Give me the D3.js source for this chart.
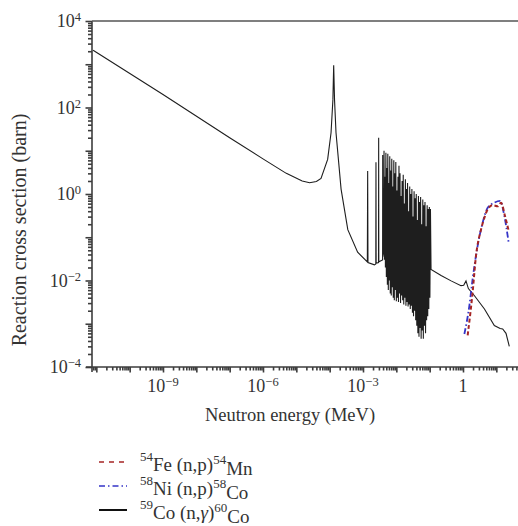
<!DOCTYPE html>
<html><head><meta charset="utf-8">
<script src="https://cdn.jsdelivr.net/npm/d3@7"></script>
<style>
body{margin:0;background:#fff}
svg{display:block}
text{font-family:"Liberation Serif","Times New Roman",serif;fill:#333}
</style>
</head><body>
<svg id="c" width="518" height="526"></svg>
<script>
// ---- data (energy in MeV, cross section in barn) ----
const coE = [8e-12,1e-9,1e-7,1e-6,5e-6,1.5e-5,2.5e-5,4e-5,5.5e-5,8.7e-5,1.1e-4,1.25e-4,1.32e-4,1.40e-4,1.55e-4,2.2e-4,3.5e-4,6.9e-4,
 1.35e-3,1.38e-3,1.41e-3,2.2e-3,2.42e-3,2.45e-3,2.48e-3,2.92e-3,2.95e-3,2.98e-3,3.87e-3,3.9e-3,3.93e-3,4.15e-3,
 4.27e-3,4.40e-3,4.55e-3,4.70e-3,4.86e-3,5.02e-3,5.20e-3,5.38e-3,5.55e-3,5.75e-3,5.95e-3,6.15e-3,6.35e-3,6.58e-3,6.80e-3,7.05e-3,
 7.30e-3,7.55e-3,7.80e-3,8.10e-3,8.40e-3,8.70e-3,9.00e-3,9.30e-3,9.65e-3,1.00e-2,1.04e-2,1.08e-2,1.12e-2,1.16e-2,1.20e-2,1.24e-2,
 1.29e-2,1.34e-2,1.39e-2,1.44e-2,1.49e-2,1.55e-2,1.61e-2,1.67e-2,1.73e-2,1.80e-2,1.87e-2,1.94e-2,2.01e-2,2.09e-2,2.17e-2,2.25e-2,
 2.34e-2,2.43e-2,2.52e-2,2.62e-2,2.72e-2,2.82e-2,2.93e-2,3.04e-2,3.16e-2,3.28e-2,3.41e-2,3.54e-2,3.67e-2,3.81e-2,3.96e-2,4.11e-2,
 4.27e-2,4.43e-2,4.60e-2,4.78e-2,4.96e-2,5.15e-2,5.35e-2,5.55e-2,5.77e-2,5.99e-2,6.22e-2,6.46e-2,6.71e-2,6.97e-2,7.24e-2,7.52e-2,
 7.80e-2,8.10e-2,8.41e-2,8.74e-2,9.07e-2,9.42e-2,9.78e-2,0.1016,0.1055,0.110,
 0.22,0.44,0.87,1.05,1.23,1.45,2.18,4.4,8.7,13,15.5,19.5,24.5];
const coS = [2100,200,20,6.5,3.0,2.0,1.82,1.95,2.3,6.3,26,150,950,150,26,1.3,0.15,0.045,
 0.027,3.4,0.026,0.023,0.024,5.4,0.025,0.026,20,0.027,0.03,8,0.035,0.045,
 10,0.03,2.5,0.02,9,0.012,4,0.008,8.5,0.006,1.8,0.01,7.5,0.005,3.5,0.0045,
 6.5,0.007,1.5,0.004,6,0.0035,3,0.006,5.5,0.0033,1.2,0.004,2.5,0.0032,4.5,0.005,
 3,0.003,0.9,0.0045,2,0.0035,2.8,0.0028,0.6,0.004,2.2,0.0026,1.3,0.0032,1.8,0.0025,
 0.4,0.0028,1.5,0.0022,1.0,0.0026,1.3,0.0018,0.3,0.0015,1.15,0.002,0.8,0.0012,1.0,0.0009,
 0.25,0.0006,0.9,0.0005,0.65,0.0008,0.85,0.00045,0.2,0.0007,0.75,0.00045,0.55,0.0009,0.65,0.0006,
 0.18,0.0012,0.55,0.0015,0.45,0.0022,0.5,0.004,0.45,0.018,
 0.013,0.0098,0.0076,0.0078,0.0098,0.0065,0.0045,0.0022,0.00091,0.00078,0.00076,0.0006,0.0003];

const feE = [1.38,1.95,2.45,3.47,4.5,5.5,7.8,11,13.8,18.2,23];
const feS = [0.00054,0.0055,0.037,0.15,0.3,0.44,0.55,0.52,0.63,0.31,0.15];

const niE = [1.1,1.55,1.95,2.75,3.9,5.5,8.7,13.1,17.4,23.4];
const niS = [0.00058,0.0026,0.011,0.063,0.22,0.48,0.63,0.69,0.31,0.076];

const xTickValues = [1e-9,1e-6,1e-3,1];
const yTickValues = [1e-4,1e-2,1,1e2,1e4];
const xTitle = "Neutron energy (MeV)";
const yTitle = "Reaction cross section (barn)";

// ---- layout ----
const svg = d3.select("#c");
const L = 92, R = 518, T = 21, B = 367;
const x = d3.scaleLog().domain([Math.pow(10,-11.13), Math.pow(10,1.65)]).range([L, R]);
const y = d3.scaleLog().domain([1e-4, 1e4]).range([B, T]);

const axisColor = "#3d3d3d";

function decades(lo, hi){ const a=[]; for(let d=lo; d<=hi; d++) a.push(Math.pow(10,d)); return a; }
function minors(lo, hi){ const a=[]; for(let d=lo; d<=hi; d++) for(let m=2;m<=9;m++) a.push(m*Math.pow(10,d)); return a; }

const xMaj = decades(-11,1).filter(v=>x(v)>=L && x(v)<=R);
const xMin = minors(-12,1).filter(v=>x(v)>=L && x(v)<=R);
const yMaj = decades(-4,4);
const yMin = minors(-4,3);

function styleAxis(g){
  g.select(".domain").remove();
  g.selectAll(".tick line").attr("stroke", axisColor).attr("stroke-width",1.6);
  g.selectAll(".tick text").remove();
}
svg.append("g").attr("transform",`translate(0,${B})`)
  .call(d3.axisBottom(x).tickValues(xMin).tickSize(3.5)).call(styleAxis);
svg.append("g").attr("transform",`translate(0,${B})`)
  .call(d3.axisBottom(x).tickValues(xMaj).tickSize(5.5)).call(styleAxis);
svg.append("g").attr("transform",`translate(${L},0)`)
  .call(d3.axisLeft(y).tickValues(yMin).tickSize(4)).call(styleAxis);
svg.append("g").attr("transform",`translate(${L},0)`)
  .call(d3.axisLeft(y).tickValues(yMaj).tickSize(6.5)).call(styleAxis);

svg.append("line").attr("x1",L).attr("x2",L).attr("y1",T).attr("y2",B+5).attr("stroke",axisColor).attr("stroke-width",1.6);
svg.append("line").attr("x1",L-6).attr("x2",R).attr("y1",B).attr("y2",B).attr("stroke",axisColor).attr("stroke-width",1.6);
svg.append("line").attr("x1",L).attr("x2",R).attr("y1",T).attr("y2",T).attr("stroke","#555").attr("stroke-width",1.6);

function powLabel(sel, v, oneAsOne){
  const e = Math.round(Math.log10(v));
  if (e === 0 && oneAsOne){ sel.append("tspan").text("1"); return; }
  sel.append("tspan").text("10");
  sel.append("tspan").attr("dy","-0.45em").attr("font-size","12.5px").text((e<0?"\u2212":"")+Math.abs(e));
}
xTickValues.forEach(v=>{
  const t = svg.append("text").attr("x",x(v)).attr("y",B+25).attr("text-anchor","middle").attr("font-size","18px");
  powLabel(t,v,true);
});
yTickValues.forEach(v=>{
  const t = svg.append("text").attr("x",L-11).attr("y",y(v)+6).attr("text-anchor","end").attr("font-size","18px");
  powLabel(t,v,false);
});

svg.append("text").attr("x",(L+R)/2 - 15).attr("y",B+54).attr("text-anchor","middle").attr("font-size","18.5px").text(xTitle);
svg.append("text").attr("transform",`translate(26,230) rotate(-90)`).attr("text-anchor","middle").attr("font-size","20px").text(yTitle);

svg.append("clipPath").attr("id","pc").append("rect").attr("x",L).attr("y",T).attr("width",R-L).attr("height",B-T);
const plot = svg.append("g").attr("clip-path","url(#pc)");

const line = d3.line().x(d=>x(d[0])).y(d=>y(d[1]));
const smooth = d3.line().x(d=>x(d[0])).y(d=>y(d[1])).curve(d3.curveMonotoneX);
const co = coE.map((e,i)=>[e,coS[i]]);
const fe = feE.map((e,i)=>[e,feS[i]]);
const ni = niE.map((e,i)=>[e,niS[i]]);

plot.append("path").datum(co).attr("d",line).attr("fill","none").attr("stroke","#1e1e1e").attr("stroke-width",1.1);
plot.append("path").datum(ni).attr("d",smooth).attr("fill","none").attr("stroke","#3535c8").attr("stroke-width",1.8).attr("stroke-dasharray","6,2.5,1.5,2.5");
plot.append("path").datum(fe).attr("d",smooth).attr("fill","none").attr("stroke","#a52424").attr("stroke-width",2).attr("stroke-dasharray","4,2.5");

const legend = [
  {dash:"5,5", color:"#a52424", w:1.3, parts:[["54",1],["Fe (n,p)",0],["54",1],["Mn",0]]},
  {dash:"6,3,1.5,3", color:"#3535c8", w:1.3, parts:[["58",1],["Ni (n,p)",0],["58",1],["Co",0]]},
  {dash:null, color:"#111", w:2, parts:[["59",1],["Co (n,",0],["\u03b3",2],[")",0],["60",1],["Co",0]]}
];
legend.forEach((l,i)=>{
  const yy = 462 + i*24;
  const ln = svg.append("line").attr("x1",99).attr("x2",127).attr("y1",yy).attr("y2",yy).attr("stroke",l.color).attr("stroke-width",l.w);
  if(l.dash) ln.attr("stroke-dasharray",l.dash);
  const t = svg.append("text").attr("x",140).attr("y",yy+6).attr("font-size","19px");
  let sup = false;
  l.parts.forEach(p=>{
    const ts = t.append("tspan").text(p[0]);
    if(p[1]===1){ ts.attr("font-size","13px").attr("dy", sup? "0":"-0.55em"); sup = true; }
    else { if(sup){ ts.attr("dy","0.55em"); sup=false; } if(p[1]===2) ts.attr("font-style","italic"); }
  });
});
</script>
</body></html>
